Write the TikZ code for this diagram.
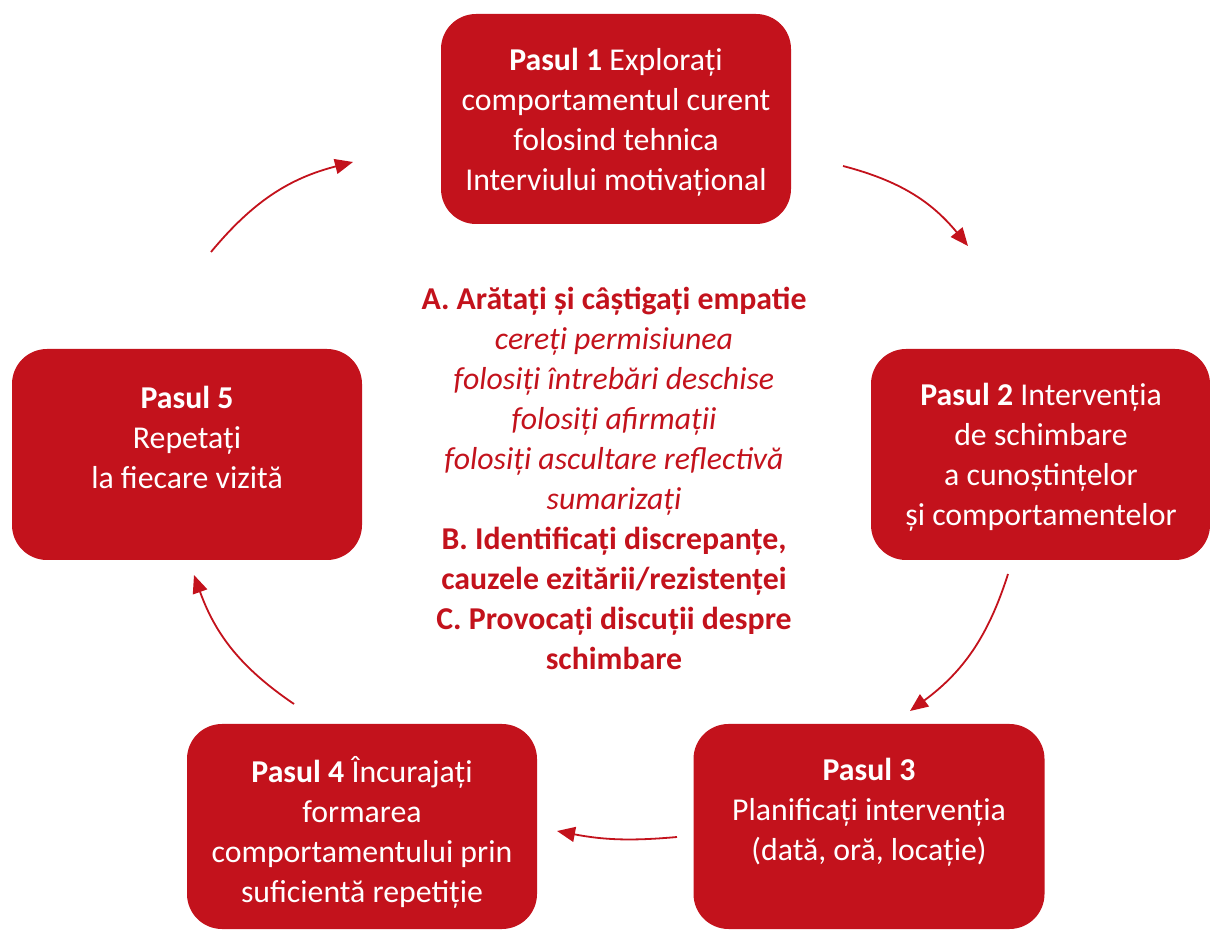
\documentclass[tikz,border=0pt]{standalone}
\usepackage{fontspec}
\setmainfont{Carlito}
\usetikzlibrary{arrows.meta}
\definecolor{pred}{RGB}{195,18,28}
\tikzset{
  stepbox/.style={fill=pred, draw=none, rounded corners=35pt, inner sep=0pt},
  boxtext/.style={text=white, align=center, font=\fontsize{31.8}{40}\selectfont, inner sep=0pt},
  midtext/.style={text=pred, align=center, font=\fontsize{31.8}{40}\selectfont, inner sep=0pt},
  cyc/.style={draw=pred, line width=1.8pt, -{Triangle[length=18pt,width=15pt]}, bend left=#1},
}
\begin{document}
\begin{tikzpicture}[x=1pt,y=1pt]
\useasboundingbox (0,0) rectangle (1210,929);
% boxes
\node[stepbox, minimum width=350pt, minimum height=210pt] (b1) at (616,810) {};
\node[stepbox, minimum width=339pt, minimum height=211pt] (b2) at (1040.5,474.5) {};
\node[stepbox, minimum width=351pt, minimum height=205pt] (b3) at (869,102.5) {};
\node[stepbox, minimum width=350pt, minimum height=205pt] (b4) at (362,102.5) {};
\node[stepbox, minimum width=350pt, minimum height=211pt] (b5) at (187,474.5) {};
% texts
\node[boxtext] (t1) at (616,807) {\textbf{Pasul 1} Explorați\\comportamentul curent\\folosind tehnica\\Interviului motivațional};
\node[boxtext] (t2) at (1041,472) {\textbf{Pasul 2} Intervenția\\de schimbare\\a cunoștințelor\\și comportamentelor};
\node[boxtext] (t3) at (869,117) {\textbf{Pasul 3}\\Planificați intervenția\\(dată, oră, locație)};
\node[boxtext] (t4) at (362,97) {\textbf{Pasul 4} Încurajați\\formarea\\comportamentului prin\\suficientă repetiție};
\node[boxtext] (t5) at (187,492) {\textbf{Pasul 5}\\Repetați\\la fiecare vizită};
\node[midtext] (mid) at (614,451) {\textbf{A. Arătați și câștigați empatie}\\
\textit{cereți permisiunea}\\
\textit{folosiți întrebări deschise}\\
\textit{folosiți afirmații}\\
\textit{folosiți ascultare reflectivă}\\
\textit{sumarizați}\\
\textbf{B. Identificați discrepanțe,}\\
\textbf{cauzele ezitării/rezistenței}\\
\textbf{C. Provocați discuții despre}\\
\textbf{schimbare}};
% arrow end points
\coordinate (a1s) at (211,677); \coordinate (a1e) at (353,767);
\coordinate (a2s) at (843,763); \coordinate (a2e) at (968,683);
\coordinate (a3s) at (1008,355); \coordinate (a3e) at (910,218);
\coordinate (a4s) at (677,92);  \coordinate (a4e) at (557,98);
\coordinate (a5s) at (294,225); \coordinate (a5e) at (194,354);
\draw[cyc=18] (a1s) to (a1e);
\draw[cyc=18] (a2s) to (a2e);
\draw[cyc=18] (a3s) to (a3e);
\draw[cyc=8]  (a4s) to (a4e);
\draw[cyc=18] (a5s) to (a5e);
\end{tikzpicture}
\end{document}
